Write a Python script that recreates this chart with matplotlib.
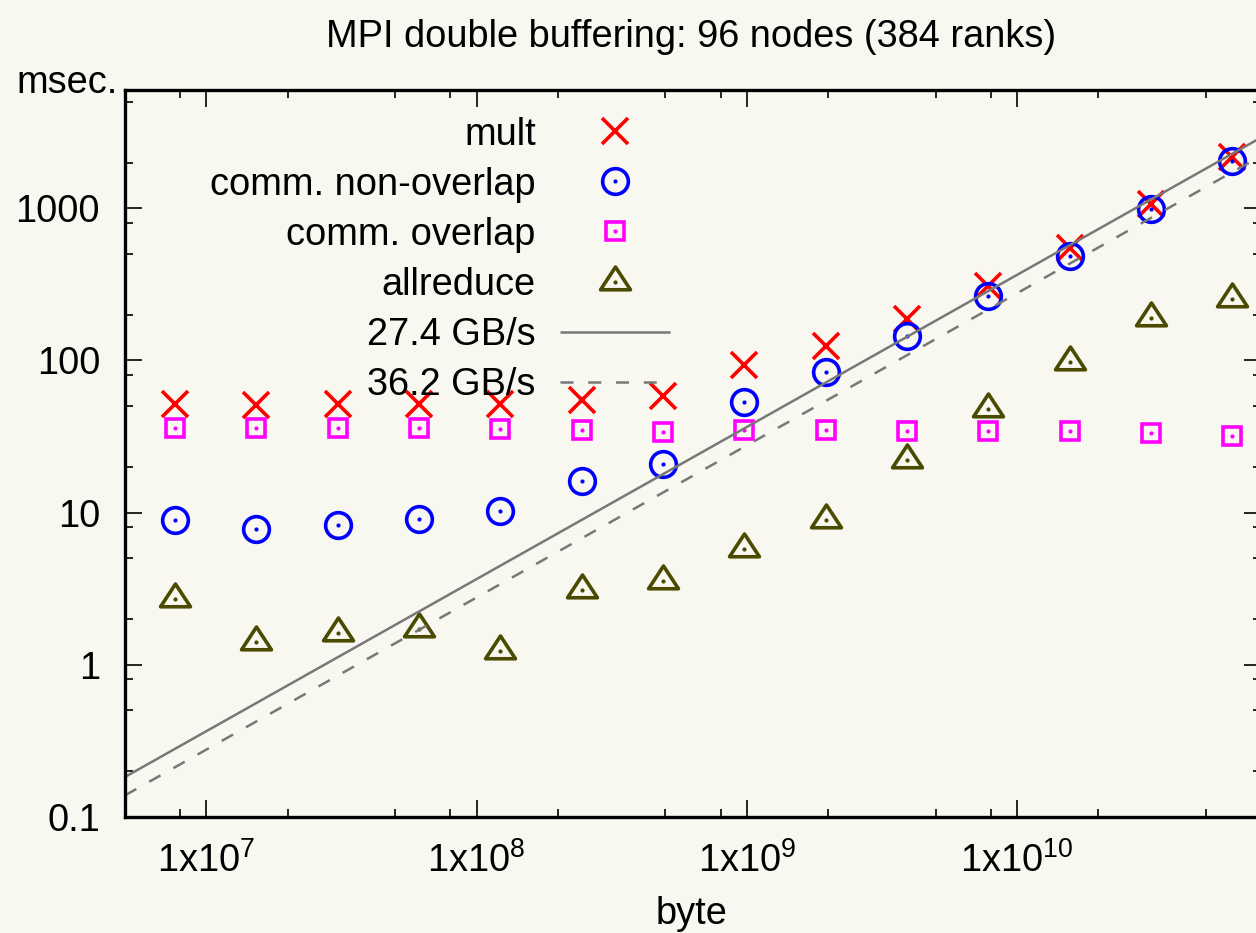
import numpy as np
import matplotlib
matplotlib.use("Agg")
import matplotlib.pyplot as plt
from matplotlib.path import Path
from matplotlib.markers import MarkerStyle
from matplotlib.ticker import LogLocator, FuncFormatter, NullFormatter
from matplotlib.legend_handler import HandlerTuple

plt.rcParams['font.family'] = ['Liberation Sans', 'DejaVu Sans']
plt.rcParams['mathtext.fontset'] = 'custom'
plt.rcParams['mathtext.rm'] = 'Liberation Sans'
plt.rcParams['mathtext.default'] = 'regular'

# ---------------- data ----------------
title = "MPI double buffering: 96 nodes (384 ranks)"
xlabel = "byte"
ylabel = "msec."

bytes_ = [7.65e6, 1.53e7, 3.06e7, 6.12e7, 1.224e8, 2.448e8, 4.896e8,
          9.79e8, 1.958e9, 3.917e9, 7.83e9, 1.567e10, 3.133e10, 6.27e10]

mult = [51.4, 50.9, 51.4, 51.4, 51.4, 54.9, 58.3,
        93.3, 124.4, 188, 310, 548, 1067, 2163]
comm_nonoverlap = [8.93, 7.8, 8.32, 9.06, 10.3, 16.0, 20.7,
                   53.0, 83.6, 145, 265, 486, 993, 2037]
comm_overlap = [36.1, 36.1, 36.1, 35.8, 35.4, 34.7, 33.8,
                34.7, 34.7, 34.5, 34.5, 34.2, 33.2, 32.0]
allreduce = [2.70, 1.41, 1.62, 1.71, 1.23, 3.09, 3.55,
             5.73, 8.93, 22.1, 47.7, 98, 189, 252]

bandwidths = [27.4, 36.2]          # GB/s
bw_labels = ["27.4 GB/s", "36.2 GB/s"]
series_labels = ["mult", "comm. non-overlap", "comm. overlap", "allreduce"]

xlim = (5e6, 8e10)
ylim = (0.1, 6000)

# ---------------- style ----------------
W, H = 1256, 933
bg = '#f8f7f0'
fs = 27.4
c_red, c_blue, c_mag, c_olive, c_grey = '#ff0000', '#0000ff', '#ff00ff', '#4a4a00', '#787878'

fig = plt.figure(figsize=(W / 100, H / 100), dpi=100, facecolor=bg)
ax_l, ax_r, ax_t, ax_b = 125, 1261, 90, 816.7
ax = fig.add_axes([ax_l / W, 1 - ax_b / H, (ax_r - ax_l) / W, (ax_b - ax_t) / H])
ax.set_facecolor(bg)
ax.set_xscale('log')
ax.set_yscale('log')
ax.set_xlim(*xlim)
ax.set_ylim(*ylim)

tri_path = Path([(0, 14.5), (-14.0, -6.8), (14.0, -6.8), (0, 14.5)],
                [Path.MOVETO, Path.LINETO, Path.LINETO, Path.CLOSEPOLY])
tri = MarkerStyle(tri_path, joinstyle='miter')

mew = 2.6
h1, = ax.plot(bytes_, mult, ls='none', marker='x', ms=18.7, mew=mew, color=c_red)
h2, = ax.plot(bytes_, comm_nonoverlap, ls='none', marker='o', ms=18.5, mew=mew,
              mfc='none', mec=c_blue)
h2d, = ax.plot(bytes_, comm_nonoverlap, ls='none', marker='o', ms=3.0, mew=0, color=c_blue)
h3, = ax.plot(bytes_, comm_overlap, ls='none', marker='s', ms=13.3, mew=mew,
              mfc='none', mec=c_mag)
h3d, = ax.plot(bytes_, comm_overlap, ls='none', marker='o', ms=3.0, mew=0, color=c_mag)
h4, = ax.plot(bytes_, allreduce, ls='none', marker=tri, ms=22.3, mew=mew,
              mfc='none', mec=c_olive)
h4d, = ax.plot(bytes_, allreduce, ls='none', marker='o', ms=3.0, mew=0, color=c_olive)

xx = np.array(xlim)
l1, = ax.plot(xx, xx / (bandwidths[0] * 1e9) * 1e3, color=c_grey, lw=1.8,
              solid_capstyle='butt')
l2, = ax.plot(xx, xx / (bandwidths[1] * 1e9) * 1e3, color=c_grey, lw=1.8,
              ls=(0, (5.2, 5.9)), dash_capstyle='butt')

# axes / ticks
for s in ax.spines.values():
    s.set_linewidth(2.4)
ax.xaxis.set_major_locator(LogLocator(base=10, numticks=20))
ax.xaxis.set_minor_locator(LogLocator(base=10, subs=[2, 5, 8], numticks=20))
ax.yaxis.set_major_locator(LogLocator(base=10, numticks=20))
ax.yaxis.set_minor_locator(LogLocator(base=10, subs=[2, 5, 8], numticks=20))
ax.xaxis.set_major_formatter(FuncFormatter(
    lambda v, p: r'$\mathregular{1x10^{%d}}$' % int(round(np.log10(v)))))
ax.yaxis.set_major_formatter(FuncFormatter(lambda v, p: '%g' % v))
ax.xaxis.set_minor_formatter(NullFormatter())
ax.yaxis.set_minor_formatter(NullFormatter())
ax.tick_params(which='both', direction='in', top=True, right=True,
               width=1.2, color='black', labelsize=fs)
ax.tick_params(which='major', length=12)
ax.tick_params(which='minor', length=6)
ax.tick_params(axis='y', which='major', pad=18)
ax.tick_params(axis='x', which='major', pad=18)

fig.text(691 / W, 1 - 47 / H, title, ha='center', va='baseline', fontsize=fs)
fig.text(118 / W, 1 - 93 / H, ylabel, ha='right', va='baseline', fontsize=fs)
fig.text(692 / W, 1 - 924 / H, xlabel, ha='center', va='baseline', fontsize=fs)

leg = ax.legend([h1, (h2, h2d), (h3, h3d), (h4, h4d), l1, l2],
                series_labels + bw_labels,
                handler_map={tuple: HandlerTuple(ndivide=1)},
                markerfirst=False, frameon=False, fontsize=fs,
                handlelength=110 / 38, handletextpad=24 / 38, labelspacing=0.37,
                borderpad=0, borderaxespad=0, numpoints=1,
                loc='upper right', bbox_to_anchor=(670 / W, 1 - 116.6 / H),
                bbox_transform=fig.transFigure)

fig.savefig('out.png', dpi=100, facecolor=bg)
